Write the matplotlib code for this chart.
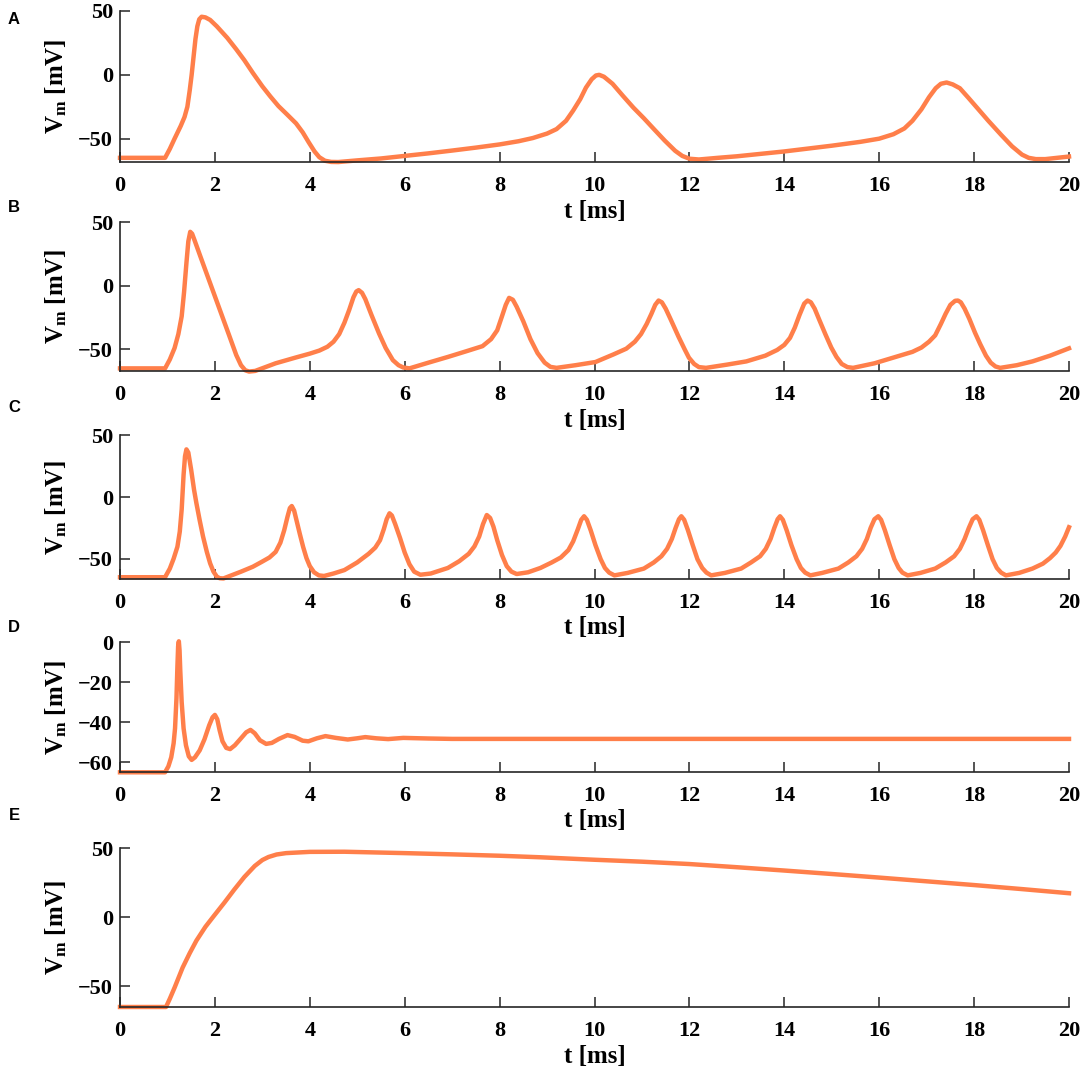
import matplotlib
matplotlib.use('Agg')
import matplotlib.pyplot as plt

# Painel A
tA = [0, 0.95, 1.05, 1.15, 1.28, 1.36, 1.42, 1.47, 1.51, 1.55, 1.59, 1.63, 1.67, 1.72, 1.8, 1.9,
      2.04, 2.26, 2.45, 2.62, 2.8, 3.0, 3.17, 3.34, 3.52, 3.71, 3.85, 3.98, 4.1, 4.2, 4.32, 4.45,
      4.6, 5.0, 5.5, 6.0, 6.5, 7.0, 7.5, 8.0, 8.4, 8.7, 9.0, 9.2, 9.4, 9.55, 9.7, 9.82, 9.94,
      10.03, 10.1, 10.2, 10.38, 10.6, 10.82, 11.04, 11.26, 11.48, 11.7, 11.85, 12.0, 12.2, 12.6,
      13.0, 14.0, 15.0, 15.6, 16.0, 16.3, 16.53, 16.7, 16.89, 17.05, 17.19, 17.3, 17.42, 17.55,
      17.7, 17.88, 18.06, 18.3, 18.57, 18.8, 19.01, 19.15, 19.3, 19.5, 19.75, 20.0]
vA = [-65, -65, -58, -50, -40, -33, -25, -12, 0, 14, 28, 38, 43.5, 45.5, 45, 43,
      38, 29, 20, 11.5, 1.5, -9, -17, -24.5, -31, -38, -45, -53, -60, -64.5, -67.3, -68.2,
      -68.3, -67, -65.5, -63.5, -61.5, -59.3, -57, -54.5, -52, -49.5, -46, -42.5, -36, -28, -19, -10, -3.5,
      -0.5, 0, -1.5, -7, -16.5, -25.7, -34, -42.8, -51.5, -59.5, -63.5, -65.7, -66.3, -65,
      -63.8, -60, -55.5, -52.5, -50, -46.5, -42, -36, -27, -17.5, -10.5, -7, -6, -7.5,
      -10.5, -18, -25.7, -36, -47, -56, -62.5, -65, -66, -66, -65, -64]

# Painel B
tB = [0, 0.95, 1.05, 1.15, 1.23, 1.3, 1.35, 1.4, 1.44, 1.48, 1.52, 1.57, 1.7, 1.9, 2.1, 2.3,
      2.45, 2.55, 2.64, 2.72, 2.85, 3.28, 3.7, 4.0, 4.2, 4.37, 4.5, 4.62, 4.73,
      4.83, 4.92, 4.98, 5.03, 5.1, 5.17, 5.3, 5.46, 5.6, 5.75, 5.87, 5.97, 6.1, 6.5, 6.91, 7.3,
      7.64, 7.82, 7.95, 8.05, 8.13, 8.2, 8.28, 8.36, 8.5, 8.65, 8.8, 8.95, 9.07, 9.2, 9.6, 10.02,
      10.4, 10.67, 10.85, 10.98, 11.1, 11.2, 11.28, 11.35, 11.42, 11.5, 11.6, 11.77, 11.9, 11.99,
      12.1, 12.2, 12.35, 12.8, 13.2, 13.6, 13.85, 14.0, 14.12, 14.22, 14.32, 14.42, 14.49, 14.56,
      14.64, 14.74, 14.87, 14.99, 15.1, 15.21, 15.33, 15.45, 15.9, 16.3, 16.7, 16.89, 17.05,
      17.18, 17.3, 17.4, 17.5, 17.6, 17.66, 17.72, 17.8, 17.9, 18.02, 18.13, 18.25, 18.35, 18.45,
      18.55, 18.9, 19.23, 19.6, 20.0]
vB = [-65, -65, -58, -49, -38, -24, -5, 18, 35, 42.5, 41, 36, 22.5, 2, -18.5, -39,
      -54.5, -62.5, -66.5, -67.5, -67, -61, -56.5, -53.4, -51, -48, -44, -38, -29,
      -19, -9, -4.5, -3.4, -5.5, -10.5, -23, -37.6, -49, -58.5, -62.5, -64.3, -65, -60.5, -56, -51.5,
      -47.5, -42, -35, -24, -15, -9.5, -11, -16.5, -28, -42, -53, -60.5, -63.8, -64.6, -62.5, -60,
      -54, -49.5, -44, -38, -30, -22, -15, -11.6, -13, -18, -26, -40, -50, -56.6,
      -61.5, -64, -64.6, -62, -59.5, -55, -50.5, -46.5, -41, -33, -23, -14, -11.6, -13,
      -18, -27, -38.5, -48.6, -56, -61.5, -64, -64.6, -61, -56.5, -52, -48.6, -44,
      -39, -30, -22, -15, -11.8, -11.6, -13, -18, -26, -37, -46, -55, -60.5, -63.5,
      -64.6, -62.5, -59.5, -55, -49.2]

# Painel C
tC = [0, 0.95, 1.05, 1.13, 1.21, 1.26, 1.3, 1.34, 1.37, 1.4, 1.44, 1.5, 1.56, 1.61, 1.68, 1.75,
      1.83, 1.9, 1.97, 2.04, 2.1, 2.18, 2.35, 2.55, 2.8, 2.99, 3.15, 3.28, 3.38, 3.46, 3.53, 3.58,
      3.62, 3.67, 3.72, 3.79, 3.86, 3.93, 4.0, 4.09, 4.19, 4.3, 4.5, 4.73, 5.0, 5.24, 5.38, 5.48,
      5.56, 5.62, 5.68, 5.73, 5.8, 5.9, 6.0, 6.1, 6.2, 6.33, 6.55, 6.91, 7.15, 7.35, 7.47, 7.57,
      7.65, 7.73, 7.8, 7.87, 7.95, 8.05, 8.15, 8.25, 8.36, 8.6, 8.86, 9.1, 9.29, 9.45, 9.55, 9.65,
      9.72, 9.78, 9.84, 9.92, 10.02, 10.13, 10.22, 10.31, 10.42, 10.7, 11.04, 11.25, 11.41, 11.53,
      11.63, 11.71, 11.78, 11.83, 11.89, 11.97, 12.07, 12.17, 12.27, 12.36, 12.46, 12.75, 13.09,
      13.3, 13.49, 13.61, 13.71, 13.79, 13.86, 13.91, 13.97, 14.05, 14.15, 14.26, 14.35, 14.44,
      14.55, 14.8, 15.14, 15.35, 15.52, 15.64, 15.74, 15.82, 15.9, 15.98, 16.04, 16.12, 16.22,
      16.32, 16.41, 16.49, 16.6, 16.87, 17.18, 17.4, 17.58, 17.7, 17.8, 17.89, 17.97, 18.05,
      18.11, 18.19, 18.29, 18.39, 18.48, 18.57, 18.67, 18.95, 19.23, 19.45, 19.6, 19.72, 19.82,
      19.92, 20.0]
vC = [-65, -65, -58, -50, -40.3, -28, -10, 18, 33, 38.6, 36, 22, 6, -5, -19, -32,
      -44.5, -53.8, -60.5, -64.5, -65.8, -66, -63.5, -60.5, -56.5, -52.5, -49, -44.5, -37, -27, -16, -9,
      -7.3, -11, -19, -30, -40.5, -49.5, -56, -61, -63.5, -64, -62, -59.2, -53, -46, -41, -35,
      -26, -18, -13.2, -15, -22, -33, -45, -54.5, -60.5, -63, -62, -57.5, -52, -46, -40, -32,
      -22, -14.6, -17, -24, -35, -47, -56, -60.5, -62.4, -61, -57.5, -53, -49, -43, -36, -26,
      -18.5, -15.6, -18.5, -27, -39, -50.4, -57.5, -61.3, -63.5, -61.5, -58, -53, -48, -42,
      -34, -25, -18, -15.6, -18.5, -27, -39, -50.4, -57.5, -61.3, -63.5, -61.5, -58,
      -53, -48, -42, -34, -25, -18, -15.6, -18.5, -27, -39, -50.4, -57.5, -61.3,
      -63.5, -61.5, -58, -53, -48, -42, -34, -25, -18, -15.6, -18.5, -27, -39,
      -50.4, -57.5, -61.3, -63.5, -61.5, -58, -53, -48, -42, -34, -25, -18, -15.6,
      -18.5, -27, -39, -50.4, -57.5, -61.3, -63.5, -61.5, -58, -54, -49.5, -45, -39.6,
      -32, -24.5]

# Painel D
tD = [0, 0.95, 1.02, 1.08, 1.13, 1.16, 1.19, 1.21, 1.225, 1.24, 1.255, 1.27, 1.3, 1.34, 1.39,
      1.45, 1.51, 1.58, 1.68, 1.78, 1.88, 1.95, 2.0, 2.05, 2.1, 2.16, 2.24, 2.32, 2.42, 2.55,
      2.66, 2.75, 2.84, 2.95, 3.08, 3.2, 3.35, 3.53, 3.68, 3.85, 3.97, 4.15, 4.33, 4.55, 4.8,
      5.0, 5.17, 5.4, 5.65, 5.97, 6.5, 7.0, 20.0]
vD = [-65, -65, -62, -57.5, -50.5, -43, -28, -12, -2, 0.5, -4, -14, -30, -43, -51.5,
      -57, -58.8, -57.5, -54, -48.5, -41.5, -37.5, -36.3, -38.5, -44, -49.5, -52.8, -53.4, -51.5, -48,
      -45, -43.8, -45.5, -49, -50.8, -50.3, -48.3, -46.4, -47.3, -49.2, -49.5, -48, -46.9, -47.8, -48.6,
      -48, -47.4, -48, -48.4, -47.8, -48.1, -48.3, -48.3]

# Painel E
tE = [0, 0.97, 1.05, 1.15, 1.32, 1.47, 1.61, 1.8, 1.97, 2.2, 2.41, 2.62, 2.84, 3.0, 3.13, 3.3,
      3.5, 4.0, 4.73, 6.0, 7.0, 8.0, 8.85, 10.0, 11.0, 12.0, 13.0, 14.0, 15.0, 16.0, 17.0, 18.0,
      19.0, 20.0]
vE = [-65, -65, -59, -51, -36.5, -26, -17, -7, 0.5, 10.5, 20, 29, 37, 41.3, 43.5, 45.3,
      46.3, 47.2, 47.3, 46.3, 45.4, 44.4, 43.3, 41.5, 40.1, 38.4, 36.1, 33.7, 31.2, 28.6, 25.9, 23.2,
      20.3, 17.3]

letras = ['A', 'B', 'C', 'D', 'E']
series = [(tA, vA), (tB, vB), (tC, vC), (tD, vD), (tE, vE)]
ylims = [(-68.5, 50), (-67.3, 50), (-66.2, 50), (-64.7, 0), (-65, 50)]
yticks = [[-50, 0, 50], [-50, 0, 50], [-50, 0, 50], [-60, -40, -20, 0], [-50, 0, 50]]

# posicoes em pixels (topo, base) de cada painel
W, H = 1084, 1073
caixas = [(11, 162.3), (222.3, 371.3), (435.3, 578.7), (642.3, 771.7), (848, 1007)]
letra_y = [20, 207, 408, 628, 816]
x0, x1 = 120, 1069

plt.rcParams['font.family'] = 'Liberation Serif'
plt.rcParams['font.weight'] = 'bold'
plt.rcParams['mathtext.fontset'] = 'custom'
plt.rcParams['mathtext.rm'] = 'Liberation Serif:bold'
plt.rcParams['mathtext.it'] = 'Liberation Serif:bold'
plt.rcParams['mathtext.bf'] = 'Liberation Serif:bold'

cor = '#FF7F4A'
fig = plt.figure(figsize=(W / 100, H / 100), dpi=100)

for i, (t, v) in enumerate(series):
    topo, base = caixas[i]
    ax = fig.add_axes([x0 / W, 1 - base / H, (x1 - x0) / W, (base - topo) / H])
    ax.plot(t, v, color=cor, lw=3.2, solid_joinstyle='round', clip_on=False)
    ax.set_xlim(0, 20)
    ax.set_ylim(*ylims[i])
    ax.set_xticks(range(0, 21, 2))
    ax.set_yticks(yticks[i])
    for s in ['top', 'right']:
        ax.spines[s].set_visible(False)
    for s in ['left', 'bottom']:
        ax.spines[s].set_color('#262626')
        ax.spines[s].set_linewidth(1.2)
    ax.tick_params(direction='in', length=7, width=1.1, color='#262626', labelsize=16)
    ax.tick_params(axis='x', pad=10)
    ax.tick_params(axis='y', pad=5)
    ax.set_xlabel('t [ms]', fontsize=18, fontweight='bold')
    ax.set_ylabel(r'V$_{\mathrm{m}}$ [mV]', fontsize=18, fontweight='bold')
    hpx = base - topo
    ax.xaxis.set_label_coords(0.5, -49 / hpx)
    ax.xaxis.label.set_va('center')
    ax.yaxis.set_label_coords((56 - x0) / (x1 - x0), 0.5)
    ax.yaxis.label.set_va('center')
    fig.text(14 / W, 1 - letra_y[i] / H, letras[i], fontsize=12, fontweight='bold',
             family='Liberation Sans', ha='center', va='center')

fig.savefig('out.png', dpi=100)
